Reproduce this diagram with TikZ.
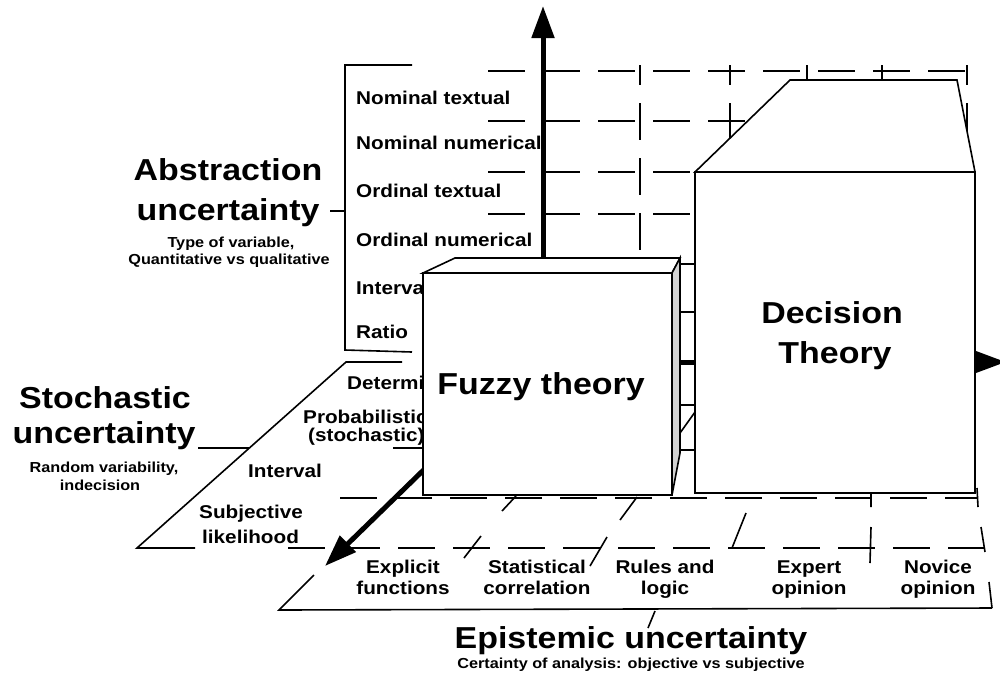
\documentclass[tikz,border=0pt]{standalone}
\usepackage{fontspec}
\setsansfont{Liberation Sans}[FakeStretch=1.12]
\usetikzlibrary{positioning,arrows.meta}

\tikzset{
  lbl/.style={font=\sffamily\bfseries\fontsize{18.5}{22}\selectfont, inner sep=0pt, anchor=base west},
  clbl/.style={font=\sffamily\bfseries\fontsize{18.5}{22}\selectfont, inner sep=0pt, anchor=base},
  bigtitle/.style={font=\sffamily\bfseries\fontsize{30.3}{35}\selectfont, inner sep=0pt, anchor=base},
  subtitle/.style={font=\sffamily\bfseries\fontsize{14.5}{18}\selectfont, inner sep=0pt, anchor=base},
  walldash/.style={line width=1.8pt, dash pattern=on 37pt off 18pt},
  boxline/.style={line width=1.6pt, line join=miter},
  boxface/.style={boxline, fill=white},
  axisarrow/.style={line width=5pt, -{Triangle[length=32pt,width=22pt]}},
}

\begin{document}
\begin{tikzpicture}[x=1pt,y=-1pt]
\useasboundingbox (0,0) rectangle (1000,681);

% back wall grid
\foreach \y in {71,121,172,214,264,312}
  \draw[walldash] (488,\y) -- (967,\y);
\foreach \x in {640,730,807,882,967}
  \draw[walldash, dash phase=17pt] (\x,65) -- (\x,255);

% floor grid
\draw[walldash] (340,498) -- (978,498);
\draw[walldash] (288,548) -- (984,548);
\draw[boxline] (680,264) -- (695,264) (680,312) -- (695,312)
  (680,405) -- (695,405) (680,450) -- (695,450) (680,433) -- (695,412);

% dividers of the epistemic floor
\draw[boxline] (516,496) -- (502,511) (481,536) -- (464,558);
\draw[boxline] (637,497) -- (620,520) (607,537) -- (590,566);
\draw[boxline] (746,513) -- (732,548);
\draw[boxline] (871,494) -- (871,507) (871,527) -- (870,563);
\draw[boxline] (977,488) -- (978,507) (981,527) -- (985,552) (989,582) -- (992,608);
\draw[boxline] (314,575) -- (279,610) -- (992,608);
\draw[boxline] (655,611) -- (648,628);

% abstraction axis
\coordinate (abtop) at (412,65);
\coordinate (abbot) at (412,352);
\draw[boxline] (abtop) -- (345,65) -- (345,350) -- (abbot);
\draw[boxline] (330,211) -- (345,211);
\node[lbl] (nomtext) at (356,104) {Nominal textual};
\node[lbl] (nomnum) at (356,149) {Nominal numerical};
\node[lbl] (ordtext) at (356,197) {Ordinal textual};
\node[lbl] (ordnum) at (356,246) {Ordinal numerical};
\node[lbl] (inter) at (356,294) {Interval};
\node[lbl] (ratio) at (356,338) {Ratio};

\node[bigtitle] (abs1) at (228,180) {Abstraction};
\node[bigtitle] (abs2) at (228,220) {uncertainty};
\node[subtitle] (abs3) at (231,247) {Type of variable,};
\node[subtitle] (abs4) at (229,264) {Quantitative vs qualitative};

% stochastic axis
\draw[boxline] (402,362) -- (346,362) -- (137,548) -- (195,548);
\draw[boxline] (198,448) -- (249,448);
\draw[boxline] (393,448) -- (423,448);
\node[lbl] (determ) at (347,389) {Determi};
\node[lbl] (prob1) at (303,423) {Probabilistic};
\node[lbl] (prob2) at (308,441) {(stochastic)};
\node[lbl] (sinter) at (248,477) {Interval};
\node[lbl] (subj1) at (199,518) {Subjective};
\node[lbl] (subj2) at (202,543) {likelihood};

\node[bigtitle] (sto1) at (105,408) {Stochastic};
\node[bigtitle] (sto2) at (104,443) {uncertainty};
\node[subtitle] (sto3) at (104,472) {Random variability,};
\node[subtitle] (sto4) at (100,490) {indecision};

% axes
\draw[axisarrow] (543,300) -- (543,6);
\draw[axisarrow] (660,362) -- (1006,362);
\draw[axisarrow] (440,454) -- (325,566);

% fuzzy box
\draw[boxface] (423,273) -- (455,258) -- (680,258) -- (672,273) -- cycle;
\draw[boxline, fill=gray!35] (672,273) -- (680,258) -- (680,453) -- (672,495) -- cycle;
\draw[boxface] (423,273) rectangle (672,495);
\node[bigtitle] (fuzzy) at (541,394) {Fuzzy theory};

% decision box
\draw[boxface] (695,172) -- (790,80) -- (957,80) -- (975,172) -- cycle;
\draw[boxface] (695,172) rectangle (975,493);
\node[bigtitle] (dec1) at (832,323) {Decision};
\node[bigtitle] (dec2) at (835,363) {Theory};

% epistemic axis
\node[clbl] (expl1) at (403,573) {Explicit};
\node[clbl] (expl2) at (403,594) {functions};
\node[clbl] (stat1) at (537,573) {Statistical};
\node[clbl] (stat2) at (537,594) {correlation};
\node[clbl] (rule1) at (665,573) {Rules and};
\node[clbl] (rule2) at (665,594) {logic};
\node[clbl] (expe1) at (809,573) {Expert};
\node[clbl] (expe2) at (809,594) {opinion};
\node[clbl] (novi1) at (938,573) {Novice};
\node[clbl] (novi2) at (938,594) {opinion};

\node[bigtitle] (epi1) at (631,648) {Epistemic uncertainty};
\node[subtitle] (epi2) at (631,668) {Certainty of analysis: objective vs subjective};

\end{tikzpicture}
\end{document}
